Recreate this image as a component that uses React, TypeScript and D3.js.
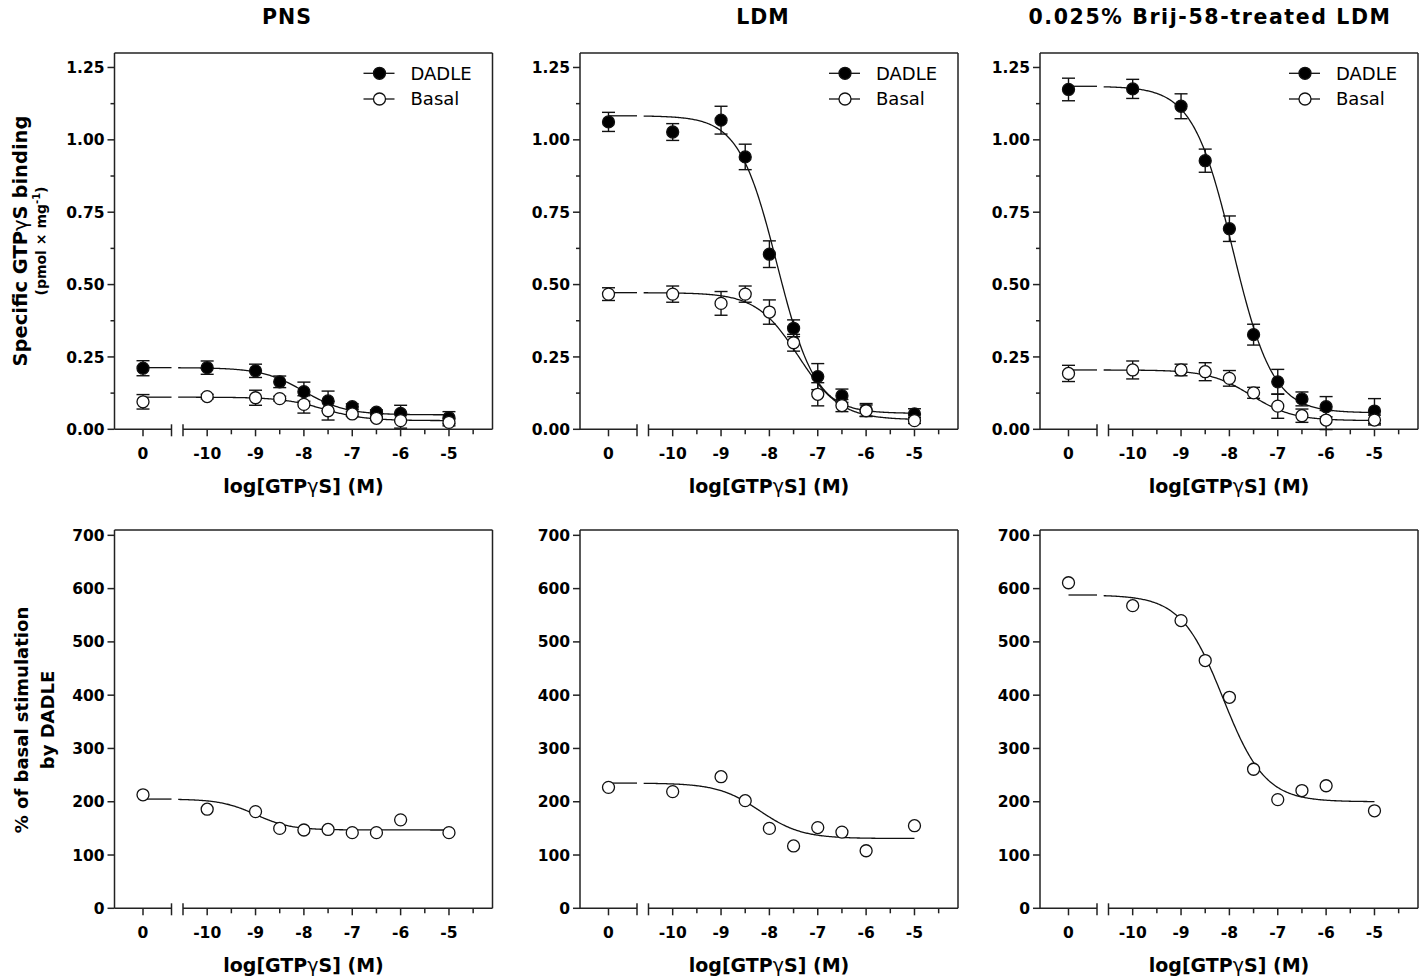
import React from 'react';
import * as d3 from 'd3';

// ---------- data ----------
const xLevels = [0, -10, -9, -8.5, -8, -7.5, -7, -6.5, -6, -5];
const xMajorTicks = [-10, -9, -8, -7, -6, -5];
const xMinorTicks = [-9.5, -8.5, -7.5, -6.5, -5.5, -4.5];
const panelTitles = ['PNS', 'LDM', '0.025% Brij-58-treated LDM'];
const seriesNames = ['DADLE', 'Basal'];

const topYTicks = [0, 0.25, 0.5, 0.75, 1.0, 1.25];
const topYMinor = [0.125, 0.375, 0.625, 0.875, 1.125];
const bottomYTicks = [0, 100, 200, 300, 400, 500, 600, 700];

const pnsDadle = [0.211, 0.213, 0.202, 0.164, 0.130, 0.098, 0.078, 0.059, 0.055, 0.040];
const pnsDadleErr = [0.026, 0.023, 0.023, 0.020, 0.033, 0.034, 0.010, 0.008, 0.028, 0.021];
const pnsBasal = [0.095, 0.113, 0.109, 0.106, 0.086, 0.064, 0.053, 0.038, 0.030, 0.024];
const pnsBasalErr = [0.025, 0.008, 0.026, 0.008, 0.030, 0.032, 0.008, 0.006, 0.026, 0.012];

const ldmDadle = [1.062, 1.027, 1.068, 0.941, 0.605, 0.349, 0.182, 0.116, 0.067, 0.053];
const ldmDadleErr = [0.033, 0.029, 0.048, 0.044, 0.046, 0.029, 0.045, 0.023, 0.022, 0.018];
const ldmBasal = [0.467, 0.467, 0.435, 0.467, 0.405, 0.299, 0.121, 0.082, 0.064, 0.030];
const ldmBasalErr = [0.022, 0.028, 0.041, 0.028, 0.042, 0.029, 0.040, 0.021, 0.020, 0.010];

const brijDadle = [1.174, 1.176, 1.116, 0.928, 0.693, 0.327, 0.164, 0.105, 0.078, 0.063];
const brijDadleErr = [0.039, 0.033, 0.043, 0.040, 0.044, 0.036, 0.043, 0.024, 0.035, 0.043];
const brijBasal = [0.193, 0.205, 0.205, 0.199, 0.176, 0.126, 0.080, 0.047, 0.032, 0.032];
const brijBasalErr = [0.028, 0.031, 0.020, 0.031, 0.027, 0.019, 0.042, 0.023, 0.033, 0.017];

// fitted sigmoid parameters: [top, bottom, logEC50, hill]
const pnsDadleFit = [0.213, 0.050, -8.0, 1.0];
const pnsBasalFit = [0.111, 0.030, -7.6, 1.0];
const ldmDadleFit = [1.083, 0.055, -7.84, 1.1];
const ldmBasalFit = [0.472, 0.033, -7.4, 1.0];
const brijDadleFit = [1.185, 0.057, -7.93, 1.05];
const brijBasalFit = [0.205, 0.030, -7.55, 1.0];

const pnsStim = [213, 186, 181.5, 150, 147, 148, 142, 142, 166, 142];
const ldmStim = [227, 219, 247, 202, 150, 117, 151.5, 143, 108, 155];
const brijStim = [611, 568, 540, 465, 396, 261, 204, 221, 230, 183];

const pnsStimFit = [205, 147, -9.0, 1.2];
const ldmStimFit = [235, 131, -8.2, 1.0];
const brijStimFit = [588, 200, -8.13, 1.0];

// ---------- layout ----------
const colLeft = [114.5, 580, 1040];
const titleCenters = [287, 763, 1210];
const PW = 378;
const rowTop = [{ y0: 53, y1: 429.3, max: 1.3 }, { y0: 530, y1: 908.3, max: 710 }];
const BREAK1 = 57;
const BREAK2 = 68.5;
const LINE = '#222';
const FONT = 'DejaVu Sans, Arial, sans-serif';

const sigmoid = (p: number[], x: number) => p[1] + (p[0] - p[1]) / (1 + Math.pow(10, (x - p[2]) * p[3]));

type Series = { vals: number[]; err?: number[]; fit: number[]; filled: boolean };

function Panel({ col, row, series, title, legend }: { col: number; row: number; series: Series[]; title?: string; legend?: boolean }) {
  const L = colLeft[col];
  const { y0, y1, max } = rowTop[row];
  const s1 = d3.scaleLinear().domain([-1, 1]).range([L, L + BREAK1]);
  const s2 = d3.scaleLinear().domain([-10.5, -4.1]).range([L + BREAK2, L + PW]);
  const y = d3.scaleLinear().domain([0, max]).range([y1, y0]);
  const xp = (v: number) => (v === 0 ? s1(0) : s2(v));
  const samples = d3.range(-10.6, -4.999, 0.02);
  const fmt = row === 0 ? d3.format('.2f') : d3.format('d');
  const yTicks = row === 0 ? topYTicks : bottomYTicks;
  const yMinor = row === 0 ? topYMinor : [];

  return (
    <g>
      {/* frame */}
      <line x1={L} y1={y0} x2={L} y2={y1} stroke={LINE} strokeWidth={1.5} />
      <line x1={L} y1={y0} x2={L + PW} y2={y0} stroke={LINE} strokeWidth={1.5} />
      <line x1={L + PW} y1={y0} x2={L + PW} y2={y1} stroke={LINE} strokeWidth={1.5} />
      <line x1={L} y1={y1} x2={L + BREAK1} y2={y1} stroke={LINE} strokeWidth={1.5} />
      <line x1={L + BREAK2} y1={y1} x2={L + PW} y2={y1} stroke={LINE} strokeWidth={1.5} />
      {/* break marks */}
      <line x1={L + BREAK1} y1={y1 - 5} x2={L + BREAK1} y2={y1 + 7} stroke={LINE} strokeWidth={1.5} />
      <line x1={L + BREAK2} y1={y1 - 5} x2={L + BREAK2} y2={y1 + 7} stroke={LINE} strokeWidth={1.5} />
      {/* x ticks */}
      <line x1={s1(0)} y1={y1} x2={s1(0)} y2={y1 + 7} stroke={LINE} strokeWidth={1.5} />
      <text x={s1(0)} y={y1 + 30} textAnchor="middle" fontFamily={FONT} fontWeight="bold" fontSize={15.5}>0</text>
      {xMajorTicks.map((t) => (
        <g key={'xm' + t}>
          <line x1={s2(t)} y1={y1} x2={s2(t)} y2={y1 + 7} stroke={LINE} strokeWidth={1.5} />
          <text x={s2(t)} y={y1 + 30} textAnchor="middle" fontFamily={FONT} fontWeight="bold" fontSize={15.5}>{String(t)}</text>
        </g>
      ))}
      {xMinorTicks.map((t) => (
        <line key={'xn' + t} x1={s2(t)} y1={y1} x2={s2(t)} y2={y1 + 5} stroke={LINE} strokeWidth={1.5} />
      ))}
      <text x={L + PW / 2} y={y1 + 64} textAnchor="middle" fontFamily={FONT} fontWeight="bold" fontSize={19}>
        log[GTP<tspan fontWeight="normal">γ</tspan>S] (M)
      </text>
      {/* y ticks */}
      {yTicks.map((t) => (
        <g key={'ym' + t}>
          <line x1={L - 7} y1={y(t)} x2={L} y2={y(t)} stroke={LINE} strokeWidth={1.5} />
          <text x={L - 10} y={y(t)} dy="0.36em" textAnchor="end" fontFamily={FONT} fontWeight="bold" fontSize={15.5}>{fmt(t)}</text>
        </g>
      ))}
      {yMinor.map((t) => (
        <line key={'yn' + t} x1={L - 4} y1={y(t)} x2={L} y2={y(t)} stroke={LINE} strokeWidth={1.5} />
      ))}
      {/* fits */}
      {series.map((s, i) => {
        const line = d3
          .line<number>()
          .x((v) => s2(v))
          .y((v) => y(sigmoid(s.fit, v)));
        return (
          <g key={'fit' + i}>
            <line x1={s1(0)} y1={y(s.fit[0])} x2={s1(1)} y2={y(s.fit[0])} stroke="#111" strokeWidth={1.3} />
            <path d={line(samples) || ''} fill="none" stroke="#111" strokeWidth={1.3} />
          </g>
        );
      })}
      {/* error bars */}
      {series.map((s, i) =>
        s.err
          ? s.vals.map((v, j) => {
              const e = s.err![j];
              const cx = xp(xLevels[j]);
              return (
                <g key={'e' + i + '-' + j} stroke="#111" strokeWidth={1.4}>
                  <line x1={cx} x2={cx} y1={y(v - e)} y2={y(v + e)} />
                  <line x1={cx - 6.5} x2={cx + 6.5} y1={y(v - e)} y2={y(v - e)} />
                  <line x1={cx - 6.5} x2={cx + 6.5} y1={y(v + e)} y2={y(v + e)} />
                </g>
              );
            })
          : null
      )}
      {/* markers */}
      {series.map((s, i) =>
        s.vals.map((v, j) => (
          <circle key={'m' + i + '-' + j} cx={xp(xLevels[j])} cy={y(v)} r={6} fill={s.filled ? '#000' : '#fff'} stroke="#111" strokeWidth={1.3} />
        ))
      )}
      {/* legend */}
      {legend &&
        seriesNames.map((n, i) => {
          const ly = [73.3, 99][i];
          return (
            <g key={'lg' + i}>
              <line x1={L + 249} x2={L + 280} y1={ly} y2={ly} stroke="#111" strokeWidth={1.3} />
              <circle cx={L + 265} cy={ly} r={6} fill={i === 0 ? '#000' : '#fff'} stroke="#111" strokeWidth={1.3} />
              <text x={L + 296} y={ly + 6.4} fontFamily={FONT} fontSize={18}>{n}</text>
            </g>
          );
        })}
      {title && (
        <text x={titleCenters[col]} y={24} textAnchor="middle" fontFamily={FONT} fontWeight="bold" fontSize={20.5} letterSpacing={title.length > 5 ? 1.6 : 1}>{title}</text>
      )}
    </g>
  );
}

export default function App() {
  const top: Series[][] = [
    [
      { vals: pnsDadle, err: pnsDadleErr, fit: pnsDadleFit, filled: true },
      { vals: pnsBasal, err: pnsBasalErr, fit: pnsBasalFit, filled: false },
    ],
    [
      { vals: ldmDadle, err: ldmDadleErr, fit: ldmDadleFit, filled: true },
      { vals: ldmBasal, err: ldmBasalErr, fit: ldmBasalFit, filled: false },
    ],
    [
      { vals: brijDadle, err: brijDadleErr, fit: brijDadleFit, filled: true },
      { vals: brijBasal, err: brijBasalErr, fit: brijBasalFit, filled: false },
    ],
  ];
  const bottom: Series[][] = [
    [{ vals: pnsStim, fit: pnsStimFit, filled: false }],
    [{ vals: ldmStim, fit: ldmStimFit, filled: false }],
    [{ vals: brijStim, fit: brijStimFit, filled: false }],
  ];
  return (
    <svg width={1427} height={978} style={{ position: 'absolute', left: 0, top: 0, background: '#fff' }}>
      <rect width={1427} height={978} fill="#fff" />
      {top.map((s, c) => (
        <Panel key={'t' + c} col={c} row={0} series={s} title={panelTitles[c]} legend />
      ))}
      {bottom.map((s, c) => (
        <Panel key={'b' + c} col={c} row={1} series={s} />
      ))}
      <g fontFamily={FONT} fontWeight="bold" textAnchor="middle">
        <text transform="translate(27,241) rotate(-90)" fontSize={19.5}>
          Specific GTP<tspan fontWeight="normal">γ</tspan>S binding
        </text>
        <text transform="translate(46,241) rotate(-90)" fontSize={14}>
          (pmol × mg<tspan dy={-6} fontSize={10}>-1</tspan><tspan dy={6}>)</tspan>
        </text>
        <text transform="translate(28,720) rotate(-90)" fontSize={18}>% of basal stimulation</text>
        <text transform="translate(54,720) rotate(-90)" fontSize={18}>by DADLE</text>
      </g>
    </svg>
  );
}
